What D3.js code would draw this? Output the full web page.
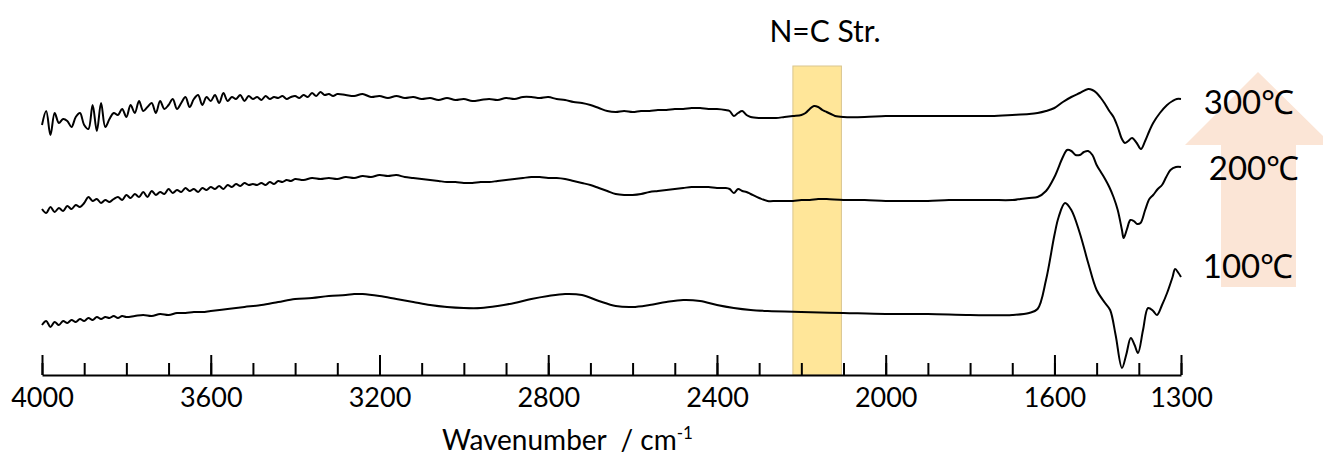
<!DOCTYPE html>
<html>
<head>
<meta charset="utf-8">
<style>
  body { margin: 0; background: #fff; }
  svg { display: block; font-family: Lato, "Open Sans", sans-serif; }
</style>
<script src="https://cdn.jsdelivr.net/npm/d3@7"></script>
</head>
<body>
<div id="chart"></div>
<script>
// ---- data (absorbance in arbitrary offset units) ----
var wn300 = [4000,3990,3980,3970,3960,3950,3940,3930,3920,3910,3900,3890,3880,3870,3860,3850,3840,3830,3820,3810,3800,3790,3780,3770,3760,3750,3740,3730,3720,3710,3700,3690,3680,3670,3660,3650,3640,3630,3620,3610,3600,3590,3580,3570,3560,3550,3540,3530,3520,3510,3500,3490,3480,3470,3460,3450,3440,3430,3420,3410,3400,3390,3380,3370,3360,3350,3340,3330,3320,3310,3300,
  3280,3260,3240,3220,3200,3180,3160,3140,3120,3100,3080,3060,3040,3020,3000,2980,2960,2940,2920,2900,2880,2860,2840,2820,2800,2780,2760,2740,2720,2700,2680,2660,2640,2620,2600,2580,2560,2540,2520,2500,2480,2460,2440,2420,2400,2380,2370,2360,2350,2340,2330,2320,2300,
  2280,2260,2240,2220,2200,2190,2180,2170,2160,2150,2140,2130,2120,2100,2050,2000,1950,1900,1850,1800,1750,1700,1660,1640,1620,1600,1580,1560,1540,1520,1510,1500,1490,1480,1470,1460,1450,1440,1433,1425,1416,1405,1395,1385,1375,1366,1350,1333,1320,1310,1300];
var abs300 = [250,264,240,262,252,256,254,248,258,262,250,246,270,244,272,248,256,262,260,266,258,270,262,274,264,268,272,262,274,266,270,276,266,272,278,268,276,280,270,278,274,280,272,282,274,278,276,280,274,279,276,278,275,279,276,278,277,279,276,278,279,277,280,278,282,279,283,280,281,279,281,
  280,279,281,278,279,277,279,277,278,276,277,275,277,275,276,274,275,276,275,277,276,278,278,277,278,276,275,273,272,270,267,264,263,264,263,264,264,265,265,266,266,267,267,266,266,265,264,259,262,264,260,258,257,
  257,257,258,259,260,262,266,269,268,265,263,261,259,258,258,259,259,259,259,259,259,260,261,262,264,267,273,278,282,286,285,282,277,271,264,258,248,236,232,234,237,232,226,234,244,252,262,270,274,276,276];

var wn200 = [4000,3990,3980,3970,3960,3950,3940,3930,3920,3910,3900,3890,3880,3870,3860,3850,3840,3830,3820,3810,3800,3790,3780,3770,3760,3750,3740,3730,3720,3710,3700,3690,3680,3670,3660,3650,3640,3630,3620,3610,3600,3590,3580,3570,3560,3550,3540,3530,3520,3510,3500,3490,3480,3470,3460,3450,3440,3430,3420,3410,3400,
  3380,3360,3340,3320,3300,3280,3260,3240,3220,3200,3180,3160,3140,3120,3100,3080,3060,3040,3020,3000,2980,2960,2940,2920,2900,2880,2860,2840,2820,2800,2780,2760,2740,2720,2700,2680,2660,2640,2620,2600,2580,2560,2540,2520,2500,2480,2460,2440,2420,2400,2380,2370,2360,2350,2340,2330,2320,2300,
  2280,2260,2240,2220,2200,2180,2160,2140,2100,2050,2000,1950,1900,1850,1800,1750,1700,1680,1660,1640,1620,1600,1580,1570,1560,1550,1540,1530,1520,1510,1500,1490,1480,1470,1460,1450,1440,1436,1428,1420,1412,1404,1396,1385,1375,1366,1355,1345,1335,1325,1312,1300];
var abs200 = [166,162,168,163,167,164,169,166,170,168,172,178,174,176,172,175,173,176,178,175,180,177,181,178,183,178,184,180,183,181,186,182,185,183,187,184,186,183,187,185,188,186,189,186,190,188,191,189,192,190,191,190,192,190,193,191,194,193,195,194,196,
  195,197,196,197,196,198,197,199,198,200,199,200,198,197,196,195,194,193,193,192,192,193,193,194,195,196,197,198,198,197,197,196,194,192,190,187,184,181,180,180,181,183,184,185,186,187,188,188,188,187,187,186,182,186,184,183,181,177,
  174,174,174,174,175,175,176,176,175,175,174,174,174,175,175,175,175,176,177,178,184,198,218,225,224,220,220,223,224,220,210,203,196,188,178,165,145,137,146,155,154,151,152,165,176,180,186,190,198,205,208,208];

var wn100 = [4000,3990,3980,3970,3960,3950,3940,3930,3920,3910,3900,3890,3880,3870,3860,3850,3840,3830,3820,3810,3800,3780,3760,3740,3720,3700,3680,3660,3640,3620,3600,3560,3520,3480,3440,3400,3360,3320,3280,3260,3240,3200,3160,3120,3080,3040,3000,2960,2920,2880,2840,2800,2760,2720,2680,2640,2600,2560,2520,2480,2440,2400,2360,2320,2280,2200,2100,2000,1900,1800,1700,
  1660,1640,1620,1600,1590,1575,1560,1540,1520,1500,1480,1468,1455,1440,1430,1419,1410,1402,1390,1378,1366,1357,1345,1333,1320,1314,1306,1300];
var abs100 = [50,54,48,53,50,54,52,55,53,56,54,57,55,58,56,58,57,59,57,59,58,59,60,59,61,60,62,62,63,63,64,66,68,70,73,76,77,79,80,81,81,79,76,73,70,68,67,67,69,72,76,79,81,80,74,69,68,70,73,75,74,70,67,65,64,63,62,61,61,60,60,
  62,66,95,140,158,172,165,142,112,85,72,65,40,7,20,37,30,22,45,67,64,60,70,82,98,106,102,98];

var series = [
  { name: "300℃", wn: wn300, abs: abs300 },
  { name: "200℃", wn: wn200, abs: abs200 },
  { name: "100℃", wn: wn100, abs: abs100 }
];

var majorTicks = [4000, 3600, 3200, 2800, 2400, 2000, 1600, 1300];
var bandRange = [2220, 2105];   // N=C stretching region
var labelY = [261, 195, 97];    // baseline of each temperature label, same units as abs
var labelX = [1249, 1254, 1248];

// ---- layout ----
var width = 1323, height = 459;

var svg = d3.select("#chart").append("svg")
  .attr("width", width)
  .attr("height", height);

var x = d3.scaleLinear().domain([4000, 1300]).range([42, 1181]);
var y = d3.scaleLinear().domain([0, 310]).range([375, 65]);

// highlighted band
svg.append("rect")
  .attr("x", x(bandRange[0]))
  .attr("y", y(309))
  .attr("width", x(bandRange[1]) - x(bandRange[0]))
  .attr("height", y(0) - y(309))
  .attr("fill", "#ffe699")
  .attr("stroke", "#d9c58f")
  .attr("stroke-width", 1);

svg.append("text")
  .attr("x", 825)
  .attr("y", 42)
  .attr("text-anchor", "middle")
  .style("font-size", "30px")
  .text("N=C Str.");

// big arrow behind the temperature labels
svg.append("path")
  .attr("d", "M1258,72 L1332,145 L1296,145 L1296,287 L1221,287 L1221,145 L1185,145 Z")
  .attr("fill", "#fbe5d6");

// spectra
var line = d3.line()
  .x(function(d) { return x(d[0]); })
  .y(function(d) { return y(d[1]); })
  .curve(d3.curveCatmullRom.alpha(0.5));

series.forEach(function(s) {
  svg.append("path")
    .datum(d3.zip(s.wn, s.abs))
    .attr("fill", "none")
    .attr("stroke", "#000")
    .attr("stroke-width", 2)
    .attr("stroke-linejoin", "round")
    .attr("d", line);
});

// temperature labels
series.forEach(function(s, i) {
  svg.append("text")
    .attr("x", labelX[i])
    .attr("y", y(labelY[i]))
    .attr("text-anchor", "middle")
    .style("font-size", "33px")
    .text(s.name);
});

// minor ticks every 100
svg.append("g")
  .attr("transform", "translate(0,375)")
  .call(d3.axisBottom(x).tickValues(d3.range(4000, 1299, -100)).tickSize(-12).tickSizeOuter(0).tickFormat(""))
  .call(function(g) { g.select(".domain").remove(); })
  .selectAll("line").attr("stroke-width", 2);

// major ticks + labels
var ax = svg.append("g")
  .attr("transform", "translate(0,375)")
  .call(d3.axisBottom(x).tickValues(majorTicks).tickSize(-20).tickSizeOuter(0).tickPadding(13).tickFormat(d3.format("d")));
ax.select(".domain").attr("stroke-width", 2);
ax.selectAll("line").attr("stroke-width", 2);
ax.selectAll("text")
  .attr("fill", "#000")
  .style("font-family", "Lato, sans-serif")
  .style("font-size", "27px");

// axis title
var title = svg.append("text")
  .attr("x", 442)
  .attr("y", 450)
  .style("font-size", "28px")
  .style("white-space", "pre")
  .text("Wavenumber\u00a0 / cm");
title.append("tspan")
  .attr("dy", -11)
  .style("font-size", "17px")
  .text("-1");
</script>
</body>
</html>
